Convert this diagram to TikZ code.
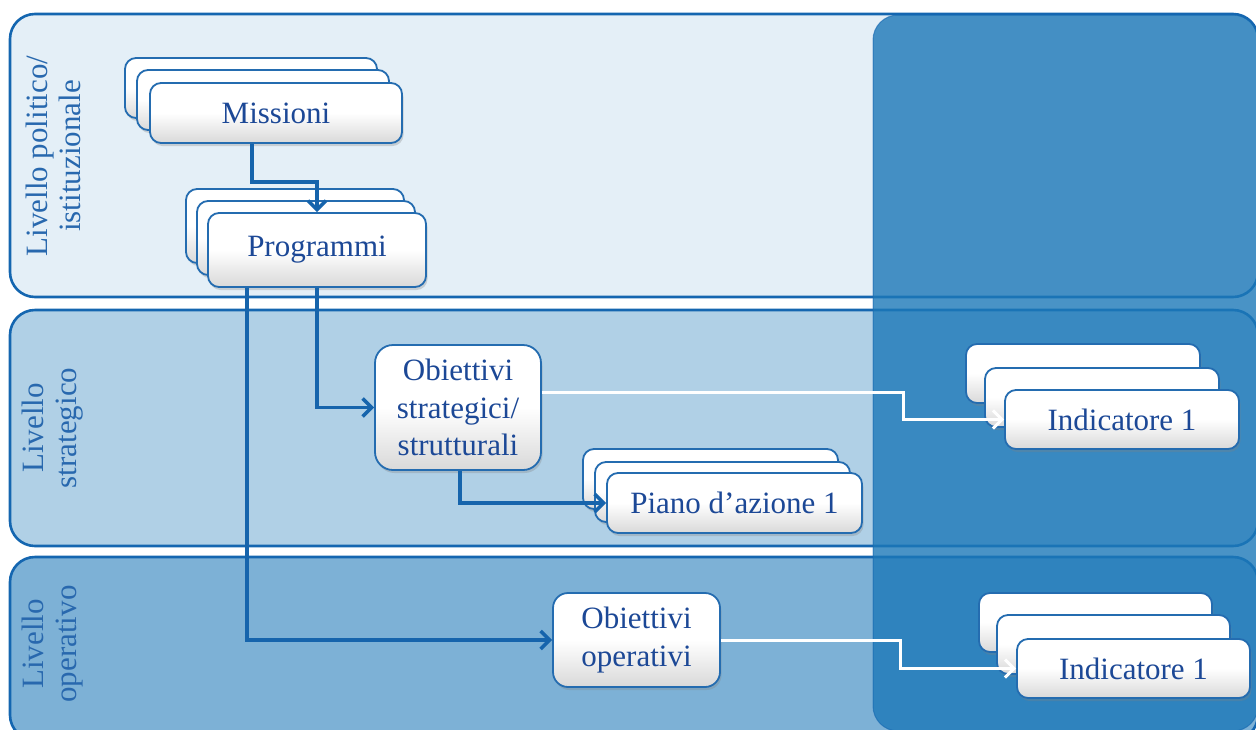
\documentclass[tikz,border=0pt]{standalone}
\usepackage{fontspec}
\setmainfont{Liberation Serif}
\usetikzlibrary{arrows.meta,shadows}
\definecolor{bandA}{RGB}{228,239,247}
\definecolor{bandB}{RGB}{176,208,230}
\definecolor{bandC}{RGB}{125,177,214}
\definecolor{bandline}{RGB}{20,102,176}
\definecolor{colblue}{RGB}{28,120,184}
\definecolor{cardline}{RGB}{36,108,176}
\definecolor{txtblue}{RGB}{28,72,150}
\definecolor{sideblue}{RGB}{40,104,174}
\definecolor{arrblue}{RGB}{22,100,172}
\tikzset{
  band/.style={draw=bandline, line width=2.6pt, rounded corners=25pt},
  card/.style={draw=cardline, line width=1.8pt, rounded corners=11pt,
    top color=white, bottom color=black!15, middle color=white, inner sep=0pt,
    drop shadow={shadow xshift=1.5pt, shadow yshift=-3pt, opacity=0.3},
    text=txtblue, align=center,
    font=\fontsize{31}{37.5}\selectfont},
  sidelabel/.style={rotate=90, text=sideblue, align=center,
    font=\fontsize{31}{33}\selectfont},
  barrow/.style={draw=arrblue, line width=3.6pt,
    -{Straight Barb[length=9pt,width=18pt,line width=3.6pt]}},
  warrow/.style={draw=white, line width=3pt,
    -{Straight Barb[length=9pt,width=18pt,line width=3pt]}}
}
\begin{document}
\begin{tikzpicture}[x=1pt,y=-1pt]
\useasboundingbox (0,0) rectangle (1256,729);
\clip (0,0) rectangle (1256,729);
\fill[white] (0,0) rectangle (1256,729);
% bands
\draw[band, fill=bandA] (10,14) rectangle (1258,297);
\draw[band, fill=bandB] (10,310) rectangle (1258,546);
\draw[band, fill=bandC] (10,557) rectangle (1258,740);
% right column
\path[fill=colblue, fill opacity=0.8, draw=bandline, draw opacity=0.6, line width=1pt, rounded corners=25pt]
  (873,15) rectangle (1258,731);
% side labels
\node[sidelabel] (lvl1) at (53,156) {Livello politico/\\istituzionale};
\node[sidelabel] (lvl2) at (53,428) {Livello\\strategico};
\node[sidelabel] (lvl3) at (53,644) {Livello\\operativo};
% Missioni stack
\node[card, minimum width=252pt, minimum height=60pt] (misC) at (251,88) {};
\node[card, minimum width=252pt, minimum height=60pt] (misB) at (263,100) {};
\node[card, minimum width=252pt, minimum height=60pt] (mis) at (276,113) {Missioni};
% Programmi stack
\node[card, minimum width=218pt, minimum height=74pt] (progC) at (295,226) {};
\node[card, minimum width=218pt, minimum height=74pt] (progB) at (306,238) {};
\node[card, minimum width=218pt, minimum height=74pt] (prog) at (317,250) {Programmi};
% Obiettivi strategici
\node[card, minimum width=166pt, minimum height=125pt, rounded corners=18pt] (ostr) at (458,407.5) {Obiettivi\\strategici/\\strutturali};
% Piano d'azione stack
\node[card, minimum width=255pt, minimum height=60pt] (pianoC) at (710.5,479) {};
\node[card, minimum width=255pt, minimum height=60pt] (pianoB) at (722.5,492) {};
\node[card, minimum width=255pt, minimum height=60pt] (piano) at (734.5,503) {Piano d’azione 1};
% Obiettivi operativi
\node[card, minimum width=167pt, minimum height=94pt, rounded corners=15pt] (oop) at (636.5,640) {Obiettivi\\operativi};
% Indicatore top stack
\node[card, minimum width=234pt, minimum height=59pt] (indAC) at (1083,373.5) {};
\node[card, minimum width=234pt, minimum height=59pt] (indAB) at (1102,397.5) {};
\node[card, minimum width=234pt, minimum height=59pt] (indA) at (1122,419.5) {Indicatore 1};
% Indicatore bottom stack
\node[card, minimum width=233pt, minimum height=59pt] (indBC) at (1095.5,622.5) {};
\node[card, minimum width=233pt, minimum height=59pt] (indBB) at (1113.5,644.5) {};
\node[card, minimum width=233pt, minimum height=59pt] (indB) at (1133.5,668.5) {Indicatore 1};
% connectors
\draw[barrow] ([xshift=-24pt]mis.south) -- ++(0,38) -| (prog.north);
\draw[barrow] (prog.south) |- (ostr.west);
\draw[barrow] ([xshift=-70pt]prog.south) |- (oop.west);
\draw[barrow] ([xshift=2pt]ostr.south) |- (piano.west);
\draw[warrow] ([yshift=15pt]ostr.east) -- ++(362,0) |- (indA.west);
\draw[warrow] (oop.east) -- ++(180,0) |- (indB.west);
\end{tikzpicture}
\end{document}
